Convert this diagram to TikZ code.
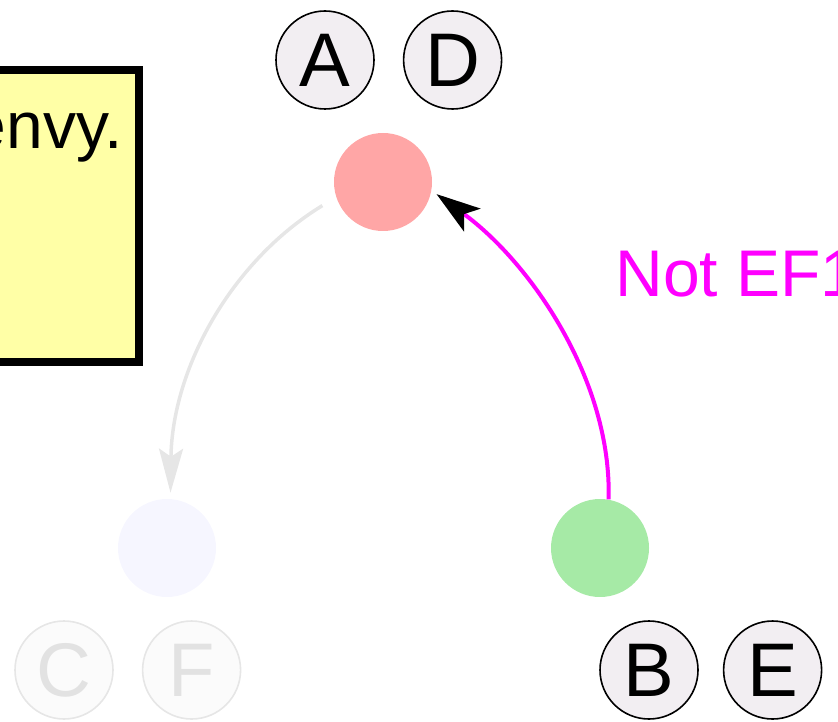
\documentclass[tikz,border=0pt]{standalone}
\usepackage{fontspec}
\setmainfont{Liberation Sans}
\usetikzlibrary{arrows.meta, positioning}
\definecolor{noteYellow}{HTML}{FFFFA6}
\definecolor{envyRed}{HTML}{FFA6A6}
\definecolor{envyGreen}{HTML}{A6EAA6}
\definecolor{envyBlue}{HTML}{F6F6FF}
\definecolor{tagFill}{HTML}{F2EEF2}
\definecolor{fadeFill}{HTML}{FBFBFB}
\definecolor{fadeLine}{HTML}{E6E6E6}
\definecolor{fadeText}{HTML}{E2E2E2}
\definecolor{envyMagenta}{HTML}{FF00FF}

\begin{document}
\begin{tikzpicture}[x=0.5pt, y=-0.5pt,
    agent/.style={circle, minimum size=49pt, inner sep=0pt},
    tag/.style={circle, draw=black, line width=0.8pt, fill=tagFill,
      minimum size=49pt, inner sep=0pt, font=\fontsize{38}{38}\selectfont},
    fadedtag/.style={tag, draw=fadeLine, fill=fadeFill, text=fadeText},
    bigtext/.style={inner sep=0pt, font=\fontsize{33}{33}\selectfont},
    node distance=14pt
  ]
  \useasboundingbox (0,0) rectangle (838,721);
  \clip (0,0) rectangle (838,721);

  % note box, cut at the left edge
  \draw[line width=4pt, fill=noteYellow] (-300,70) rectangle (139,362);
  \node[bigtext, anchor=base east] (note) at (123,149) {envy.};

  % agents
  \node[agent, fill=envyRed]   (red)   at (383,182) {};
  \node[agent, fill=envyBlue]  (blue)  at (167,548) {};
  \node[agent, fill=envyGreen] (green) at (600,548) {};

  % item tags
  \node[tag] (tA) at (325,60) {A};
  \node[tag, right=of tA] (tD) {D};
  \node[fadedtag] (tC) at (64,670) {C};
  \node[fadedtag, right=of tC] (tF) {F};
  \node[tag] (tB) at (649,670) {B};
  \node[tag, right=12pt of tB] (tE) {E};

  % envy edges
  \draw[fadeLine, line width=1.75pt, shorten <=8pt, shorten >=3pt,
        -{Stealth[length=22pt, width=12pt, inset=4pt]}]
    (red.198) .. controls (230,262) and (172,370) .. (blue.86);
  \draw[envyMagenta, line width=2pt, shorten >=3pt,
        -{Stealth[length=22pt, width=14pt, inset=5pt, color=black]}]
    (green.80) .. controls (612,380) and (530,262) .. (red.-10);
  \node[bigtext, text=envyMagenta, anchor=base west] (lbl) at (615,296) {Not EF1};
\end{tikzpicture}
\end{document}
